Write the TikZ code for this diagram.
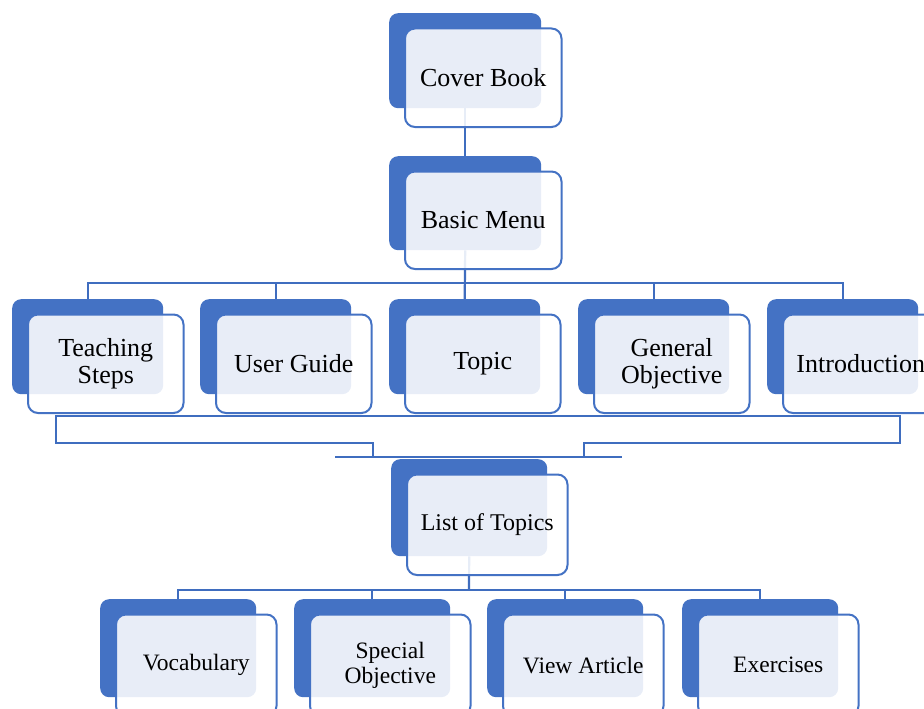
\documentclass[tikz,border=0pt]{standalone}
\usepackage{fontspec}
\setmainfont{Liberation Serif}
\definecolor{accent}{HTML}{4472C4}
\definecolor{linec}{HTML}{3F6DBF}
\pgfdeclarelayer{bg}
\pgfsetlayers{bg,main}
\tikzset{
  backbox/.style={draw=none, fill=accent, rounded corners=9pt, anchor=north west, inner sep=0pt},
  frontbox/.style={draw=accent, line width=2pt, fill=white, fill opacity=0.88, text opacity=1,
    rounded corners=10pt, anchor=north west, inner sep=0pt, align=center, text=black},
  big/.style={font=\fontsize{26}{27.5}\selectfont},
  mid/.style={font=\fontsize{24}{25.5}\selectfont},
  small/.style={font=\fontsize{23.5}{24.5}\selectfont},
  conn/.style={draw=linec, line width=2.2pt},
  bracepath/.style={draw=linec, line width=1.6pt}
}
\newcommand{\stackbox}[7]{%
  \node[backbox, minimum width=#4pt, minimum height=#5pt] (#1b) at (#2,#3) {};
  \node[frontbox, #6, minimum width=#4pt+4.5pt, minimum height=#5pt+3.5pt] (#1) at (#2+15,#3+14.5) {#7};
}
\begin{document}
\begin{tikzpicture}[x=1pt, y=-1pt]
\useasboundingbox (0,0) rectangle (924,709);
\stackbox{cb}{389}{13}{152}{95}{big}{Cover Book}
\stackbox{bm}{389}{156}{152}{94}{big}{Basic Menu}
\stackbox{ts}{12}{299}{151}{95}{big}{Teaching\\Steps}
\stackbox{ug}{200}{299}{151}{95}{big}{User Guide}
\stackbox{tp}{389}{299}{151}{95}{big}{Topic}
\stackbox{go}{578}{299}{151}{95}{big}{General\\Objective}
\stackbox{in}{767}{299}{151}{95}{big}{Introduction}
\stackbox{lt}{391}{459}{156}{97}{mid}{List of Topics}
\stackbox{vo}{100}{599}{156}{98}{small}{Vocabulary}
\stackbox{so}{294}{599}{156}{98}{small}{Special\\Objective}
\stackbox{va}{487}{599}{156}{98}{small}{View Article}
\stackbox{ex}{682}{599}{156}{98}{small}{Exercises}
\begin{pgfonlayer}{bg}
  \fill[white] (0,0) rectangle (924,709);
  \draw[conn] (cbb.south) -- (bmb.north);
  \coordinate (bus1) at (465,283);
  \draw[conn] (bmb.south) -- (tpb.north);
  \draw[conn] (tsb.north) -- (tsb.north |- bus1) -- (inb.north |- bus1) -- (inb.north);
  \draw[conn] (ugb.north) -- (ugb.north |- bus1);
  \draw[conn] (gob.north) -- (gob.north |- bus1);
  % brace between the middle row and the list of topics
  \coordinate (brL) at (56,416);
  \coordinate (brR) at (900,416);
  \coordinate (brLl) at (56,443);
  \coordinate (brLm) at (373,443);
  \coordinate (brLd) at (373,457);
  \coordinate (brRl) at (900,443);
  \coordinate (brRm) at (584,443);
  \coordinate (brRd) at (584,457);
  \coordinate (capL) at (335,457);
  \coordinate (capR) at (622,457);
  \draw[bracepath] (brLd) -- (brLm) -- (brLl) -- (brL) -- (brR) -- (brRl) -- (brRm) -- (brRd);
  \draw[conn] (capL) -- (capR);
  % bottom bus
  \coordinate (bus2) at (469,590);
  \draw[conn] (ltb.south) -- (bus2);
  \draw[conn] (vob.north) -- (vob.north |- bus2) -- (exb.north |- bus2) -- (exb.north);
  \draw[conn] (sob.north) -- (sob.north |- bus2);
  \draw[conn] (vab.north) -- (vab.north |- bus2);
\end{pgfonlayer}
\end{tikzpicture}
\end{document}
